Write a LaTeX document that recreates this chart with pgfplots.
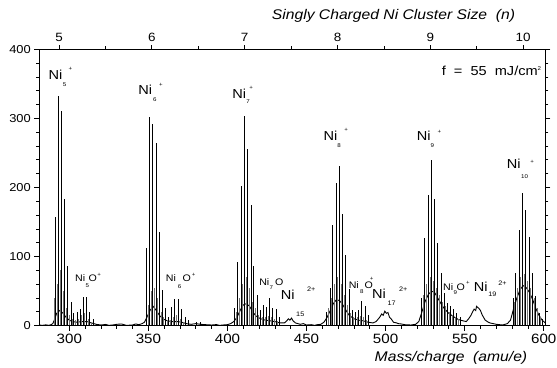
\documentclass[border=0pt]{standalone}
\usepackage{fontspec}
\setmainfont{Liberation Sans}[FakeStretch=1.12]
\usepackage{pgfplots}
\pgfplotsset{compat=1.18}
\usepackage{pgfplotstable}

\pgfplotstableread{
x y
290.9 158
293.2 333
294.9 310
296.8 183
298.9 86
301.0 34
302.7 19
304.8 20
306.7 24
308.6 42
310.7 42
312.8 20
314.9 10
348.6 112
350.7 302
352.8 292
354.9 264
357.0 135
358.7 52
360.6 25
362.7 13
364.6 27
366.7 39
368.8 38
371.1 24
373.2 12
375.0 8
380.6 5
382.7 6
404.2 25
406.3 92
408.6 202
410.7 303
412.6 256
414.9 175
416.6 86
418.7 45
420.8 23
423.0 30
424.8 27
426.7 40
428.6 26
430.7 24
432.8 13
462.8 20
464.8 54
466.5 146
468.6 206
470.7 231
472.9 162
474.7 103
476.8 53
478.7 23
480.8 20
482.9 22
484.8 36
487.0 29
489.0 15
522.8 40
524.8 127
526.9 189
529.1 240
530.7 184
532.9 119
535.0 76
537.0 47
539.0 33
541.0 28
543.0 24
545.0 19
547.0 12
580.5 40
582.3 76
584.4 139
586.6 192
588.6 167
590.7 129
592.9 76
595.0 43
597.0 19
599.0 10
}\mainpeaks

\pgfplotstableread{
x y
290.2 40
292.1 60
294.0 80
295.9 50
297.9 25
299.9 15
301.9 10
303.8 8
305.8 10
307.7 15
309.7 18
311.8 10
313.8 5
349.7 30
351.7 50
353.8 55
355.9 40
357.9 20
359.7 12
361.7 8
363.6 8
365.6 12
367.7 15
369.9 10
372.1 6
405.3 20
407.5 40
409.6 60
411.7 70
413.8 55
415.8 35
417.7 25
419.7 15
421.9 12
423.9 12
425.8 14
427.7 12
429.7 9
431.7 7
463.8 25
465.7 40
467.6 60
469.7 70
471.8 60
473.8 45
475.8 30
477.8 18
479.8 12
481.8 12
483.9 14
485.9 12
488.0 8
523.8 45
525.9 60
528.0 70
529.9 65
531.8 55
533.9 45
536.0 35
538.0 28
540.0 20
542.0 16
544.0 12
546.0 10
581.4 35
583.4 55
585.5 70
587.6 75
589.6 65
591.8 55
593.9 40
596.0 25
598.0 12
}\minorpeaks

\pgfplotstableread{
x y
281 1
283 0.5
285 1.2
287 0.6
288.5 1.5
289.5 3
290.5 8
292 18
294 22
296 18
298 12
300 8
302 6
305 5
308 6
311 6
314 4
317 2
320 1
323 1.8
325 0.5
328 1.2
330 2
333 2.5
336 0.5
340 1
342 2.5
344 1.5
346 3
347.5 5
349 12
351 22
353 28
355 22
357 15
359 10
362 7
365 6
368 6
371 5
374 3
377 2
380 3
383 2
386 1.5
390 1
393 1.6
395 0.5
398 1.2
400 1.5
402 3
404 6
406 12
408 22
410 30
412 32
414 28
416 20
418 14
421 10
424 8
427 7
430 6
433 4
436 4
437.5 7
438.5 10
439.5 8
440.5 11
441.5 7
443 4
446 2
448 3
450 1
453 1.5
455 0.5
457 1.5
459 2
461 5
463 12
465 22
467 32
469 38
471 36
473 30
475 22
477 15
480 10
483 8
486 7
489 5
492 4
494 6
495.5 10
496.5 13
497.5 17
498.5 15
499.5 21
500.5 18
501.5 19
502.5 12
503.5 10
505 5
507 4
508 3
510 2.5
512 1.5
516 1
519 2
521 6
523 20
525 35
527 45
529 50
531 48
533 40
535 32
537 25
540 18
543 13
546 9
549 7
551 6
552.5 10
554 15
555 20
556 24
557 22
557.5 28
558.5 26
559 25
560 22
561 16
562 12
563 8
565 5
566 4
568 3
570 2
574 1
575.5 2
577 3
579 8
581 25
583 40
585 52
587 58
589 55
591 48
593 38
595 25
597 15
599 8
601 4
}\background

\newcommand{\sm}[1]{{\fontsize{5.5}{6}\selectfont #1}}
\newcommand{\smb}[1]{{\fontsize{6.5}{7}\selectfont #1}}
\newcommand{\bigfont}{\fontsize{13}{14}\selectfont}
\newcommand{\midfont}{\fontsize{9.5}{10}\selectfont}

\begin{document}
\begin{tikzpicture}
\begin{axis}[
  scale only axis,
  width=506pt, height=276.4pt,
  xmin=281, xmax=601, ymin=0, ymax=400,
  xtick={300,350,...,600},
  minor x tick num=4,
  ytick={0,100,...,400},
  minor y tick num=4,
  xtick pos=left,
  ytick pos=both,
  yticklabel pos=left,
  tick align=outside,
  major tick length=5pt,
  minor tick length=3pt,
  axis line style={line width=0.9pt},
  every tick/.style={black, line width=0.8pt},
  /pgf/number format/assume math mode=true,
  xticklabel style={font=\fontsize{13.5}{14}\selectfont},
  yticklabel style={font=\fontsize{11.5}{12}\selectfont},
  clip=true,
]
\addplot[black, line width=0.9pt] table {\background};
\addplot[ycomb, black!55, line width=0.6pt] table {\minorpeaks};
\addplot[ycomb, black, line width=0.75pt] table {\mainpeaks};

% labels
\node[anchor=base west, inner sep=0] at (axis cs:286.7,355.6) {\bigfont Ni\hspace{0.5pt}\raisebox{-6.5pt}{\sm{5}}\hspace{2.5pt}\raisebox{9pt}{\sm{+}}};
\node[anchor=base west, inner sep=0] at (axis cs:343.6,333.9) {\bigfont Ni\hspace{1pt}\raisebox{-6.5pt}{\sm{6}}\hspace{2.4pt}\raisebox{8.5pt}{\sm{+}}};
\node[anchor=base west, inner sep=0] at (axis cs:403.0,329.1) {\bigfont Ni\hspace{0.3pt}\raisebox{-5pt}{\sm{7}}\hspace{-0.5pt}\raisebox{8.5pt}{\sm{+}}};
\node[anchor=base west, inner sep=0] at (axis cs:460.7,268.7) {\bigfont Ni\hspace{0pt}\raisebox{-7.5pt}{\sm{8}}\hspace{3.6pt}\raisebox{8.5pt}{\sm{+}}};
\node[anchor=base west, inner sep=0] at (axis cs:519.7,268.7) {\bigfont Ni\hspace{0pt}\raisebox{-7.5pt}{\sm{9}}\hspace{3.6pt}\raisebox{7pt}{\sm{+}}};
\node[anchor=base west, inner sep=0] at (axis cs:576.6,227.8) {\bigfont Ni\hspace{0.5pt}\raisebox{-10pt}{\sm{10}}\hspace{2.4pt}\raisebox{5pt}{\sm{+}}};

\node[anchor=base west, inner sep=0] at (axis cs:303.6,63.7) {\midfont Ni\hspace{0.3pt}\raisebox{-5.8pt}{\sm{5}}\hspace{-0.4pt}O\hspace{0.5pt}\raisebox{5pt}{\sm{+}}};
\node[anchor=base west, inner sep=0] at (axis cs:360.9,63.7) {\midfont Ni\hspace{2pt}\raisebox{-6.5pt}{\sm{6}}\hspace{1.2pt}O\hspace{1pt}\raisebox{5pt}{\sm{+}}};
\node[anchor=base west, inner sep=0] at (axis cs:420.0,58.9) {\midfont Ni\hspace{0.3pt}\raisebox{-5pt}{\sm{7}}\hspace{2pt}O};
\node[anchor=base west, inner sep=0] at (axis cs:476.6,54.1) {\midfont Ni\hspace{1.3pt}\raisebox{-5pt}{\sm{8}}\hspace{1pt}O\hspace{-3pt}\raisebox{8pt}{\sm{+}}};
\node[anchor=base west, inner sep=0] at (axis cs:491.4,39.7) {\bigfont Ni\hspace{1.7pt}\raisebox{-7.5pt}{\smb{17}}\hspace{3.4pt}\raisebox{6.5pt}{\smb{2+}}};
\node[anchor=base west, inner sep=0] at (axis cs:536.3,50.6) {\midfont Ni\hspace{0.3pt}\raisebox{-3.7pt}{\sm{9}}\hspace{-0.4pt}O\hspace{1.4pt}\raisebox{6.5pt}{\sm{+}}};

\node[anchor=base west, inner sep=0] at (axis cs:433.6,37.2) {\bigfont Ni\hspace{1.7pt}\raisebox{-17pt}{\smb{15}}\hspace{2.7pt}\raisebox{8pt}{\smb{2+}}};
\node[anchor=base west, inner sep=0] at (axis cs:555.7,49.2) {\bigfont Ni\hspace{0.7pt}\raisebox{-5pt}{\smb{19}}\hspace{2pt}\raisebox{6.5pt}{\smb{2+}}};

\node[anchor=base east, inner sep=0] at (axis cs:598.5,361.4) {\fontsize{13}{14}\selectfont f\ \ =\ \ 55\ \ mJ/cm\raisebox{5.5pt}{\sm{2}}};
\end{axis}

\begin{axis}[
  scale only axis,
  width=506pt, height=276.4pt,
  xmin=4.7871, xmax=10.2385, ymin=0, ymax=400,
  hide y axis,
  clip=false,
  xtick={5,6,...,10},
  minor xtick={5.5,6.5,...,9.5},
  xtick pos=right,
  xticklabel pos=right,
  tick align=outside,
  major tick length=4pt,
  minor tick length=3pt,
  axis line style={line width=0.9pt},
  every tick/.style={black, line width=0.8pt},
  /pgf/number format/assume math mode=true,
  xticklabel style={font=\fontsize{12}{13}\selectfont},
]
\addplot[draw=none] coordinates {(5,0)};
\node[anchor=base, inner sep=0] at (rel axis cs:0.700,1) [yshift=29.3pt] {\fontsize{14}{15}\selectfont\itshape Singly Charged Ni Cluster Size\ \ (n)};
\node[anchor=base, inner sep=0] at (rel axis cs:0.8136,0) [yshift=-36pt] {\fontsize{14}{15}\selectfont\itshape Mass/charge\ \ (amu/e)};
\end{axis}
\pgfresetboundingbox
\path ([shift={(-39.3pt,-41.3pt)}]current axis.south west) rectangle ([shift={(11.7pt,49.3pt)}]current axis.north east);
\end{tikzpicture}
\end{document}
